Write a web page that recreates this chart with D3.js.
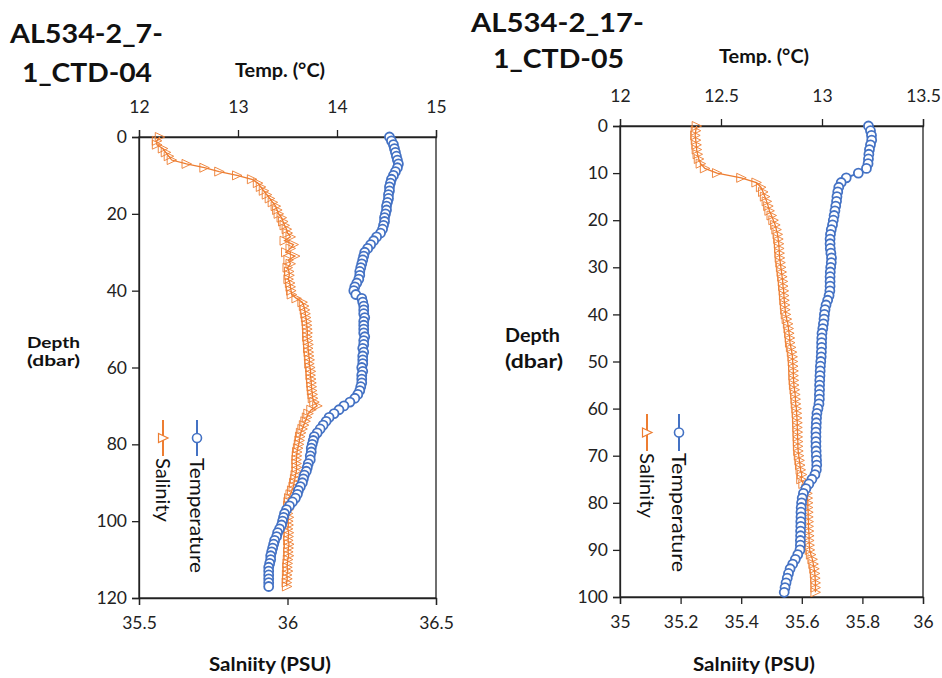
<!DOCTYPE html>
<html><head><meta charset="utf-8">
<script src="https://cdn.jsdelivr.net/npm/d3@7/dist/d3.min.js"></script>
<style>
html,body{margin:0;padding:0;background:#fff;}
svg{display:block;font-family:"Lato","Open Sans",sans-serif;}
</style></head>
<body>
<svg id="c" width="942" height="678"></svg>
<script>
// ---------- DATA ----------
const depthA = [0,1,2,3,4,5,6,7,8,9,10,11,12,13,14,15,16,17,18,19,20,21,22,23,24,25,26,27,28,29,30,31,32,33,34,35,36,37,38,39,40,41,42,43,44,45,46,47,48,49,50,51,52,53,54,55,56,57,58,59,60,61,62,63,64,65,66,67,68,69,70,71,72,73,74,75,76,77,78,79,80,81,82,83,84,85,86,87,88,89,90,91,92,93,94,95,96,97,98,99,100,101,102,103,104,105,106,107,108,109,110,111,112,113,114,115,116,117];
const tempA = [14.53,14.55,14.57,14.58,14.59,14.60,14.61,14.62,14.61,14.59,14.57,14.55,14.54,14.53,14.53,14.52,14.52,14.51,14.50,14.50,14.49,14.48,14.48,14.47,14.46,14.44,14.40,14.37,14.34,14.31,14.28,14.27,14.26,14.25,14.24,14.23,14.23,14.22,14.20,14.18,14.17,14.19,14.25,14.26,14.27,14.27,14.27,14.28,14.27,14.27,14.27,14.27,14.28,14.27,14.27,14.26,14.27,14.26,14.26,14.26,14.25,14.26,14.25,14.25,14.25,14.24,14.23,14.21,14.18,14.13,14.07,14.02,13.97,13.92,13.89,13.86,13.83,13.80,13.77,13.76,13.75,13.74,13.74,13.73,13.73,13.71,13.70,13.69,13.67,13.66,13.65,13.63,13.61,13.60,13.58,13.55,13.52,13.49,13.47,13.46,13.45,13.44,13.42,13.40,13.39,13.37,13.36,13.35,13.34,13.33,13.33,13.32,13.31,13.31,13.31,13.31,13.31,13.31];
const salA = [35.57,35.56,35.56,35.58,35.59,35.60,35.61,35.66,35.72,35.77,35.83,35.88,35.90,35.91,35.92,35.93,35.94,35.95,35.96,35.965,35.97,35.98,35.985,35.99,35.997,36.00,36.01,35.99,36.02,36.01,35.995,36.025,36.003,36.01,36.00,36.005,36.006,36.003,36.008,36.01,36.012,36.014,36.03,36.05,36.055,36.058,36.06,36.062,36.064,36.065,36.066,36.067,36.066,36.068,36.07,36.069,36.071,36.072,36.074,36.073,36.076,36.078,36.077,36.079,36.08,36.081,36.082,36.084,36.085,36.09,36.10,36.08,36.07,36.065,36.06,36.055,36.05,36.045,36.042,36.04,36.038,36.035,36.032,36.031,36.03,36.03,36.031,36.03,36.027,36.025,36.022,36.02,36.015,36.01,36.005,36.003,36.002,36.003,36.001,36.004,36.002,36.003,36.001,36.004,36.003,36.002,36.005,36.003,36.002,36.004,36.001,36.0,35.999,36.001,35.998,35.999,35.997,35.998];

const depthB = [0,1,2,3,4,5,6,7,8,9,10,11,12,13,14,15,16,17,18,19,20,21,22,23,24,25,26,27,28,29,30,31,32,33,34,35,36,37,38,39,40,41,42,43,44,45,46,47,48,49,50,51,52,53,54,55,56,57,58,59,60,61,62,63,64,65,66,67,68,69,70,71,72,73,74,75,76,77,78,79,80,81,82,83,84,85,86,87,88,89,90,91,92,93,94,95,96,97,98,99];
const tempB = [13.23,13.24,13.245,13.246,13.24,13.235,13.232,13.23,13.228,13.22,13.18,13.12,13.095,13.083,13.078,13.074,13.072,13.068,13.064,13.06,13.056,13.052,13.046,13.042,13.04,13.04,13.041,13.044,13.047,13.046,13.043,13.041,13.04,13.04,13.04,13.039,13.035,13.028,13.02,13.015,13.012,13.01,13.007,13.004,13.0,12.999,12.998,12.998,12.997,12.996,12.994,12.992,12.991,12.99,12.989,12.988,12.988,12.987,12.987,12.985,12.98,12.975,12.973,12.972,12.971,12.97,12.97,12.97,12.97,12.971,12.972,12.973,12.974,12.972,12.965,12.95,12.935,12.92,12.908,12.902,12.899,12.897,12.896,12.896,12.895,12.895,12.894,12.894,12.893,12.893,12.891,12.88,12.868,12.855,12.842,12.834,12.828,12.822,12.817,12.813];
const salB = [35.253,35.25,35.248,35.25,35.252,35.253,35.256,35.26,35.266,35.28,35.32,35.40,35.45,35.465,35.472,35.478,35.484,35.489,35.493,35.50,35.506,35.512,35.516,35.52,35.522,35.524,35.525,35.526,35.527,35.529,35.531,35.533,35.535,35.537,35.538,35.54,35.541,35.542,35.544,35.545,35.547,35.55,35.554,35.556,35.558,35.56,35.561,35.564,35.567,35.569,35.57,35.571,35.572,35.572,35.573,35.574,35.576,35.578,35.579,35.58,35.582,35.583,35.584,35.585,35.585,35.586,35.586,35.587,35.587,35.588,35.59,35.592,35.594,35.596,35.60,35.598,35.605,35.615,35.618,35.619,35.62,35.62,35.621,35.621,35.622,35.622,35.623,35.624,35.624,35.625,35.626,35.63,35.635,35.638,35.641,35.643,35.644,35.645,35.645,35.645];

const titlesA = ["AL534-2_7-","1_CTD-04"];
const titlesB = ["AL534-2_17-","1_CTD-05"];
const tempTicksA = [12,13,14,15];
const salTicksA = [35.5,36,36.5];
const depthTicksA = [0,20,40,60,80,100,120];
const tempTicksB = [12,12.5,13,13.5];
const salTicksB = [35,35.2,35.4,35.6,35.8,36];
const depthTicksB = [0,10,20,30,40,50,60,70,80,90,100];
const seriesNames = ["Salinity","Temperature"];
const tempLabel = "Temp. (°C)";
const salLabel = "Salniity (PSU)";
const depthLabel = ["Depth","(dbar)"];

// ---------- STYLE ----------
const BLUE = "#4472C4", ORANGE = "#ED7D31";
const FONT = "Lato, 'Open Sans', sans-serif";
const svg = d3.select("#c");

function panel(cfg){
  const g = svg.append("g");
  const {L,R,T,B} = cfg;
  const x1 = d3.scaleLinear().domain(cfg.tDom).range([L,R]);
  const x2 = d3.scaleLinear().domain(cfg.sDom).range([L,R]);
  const y = d3.scaleLinear().domain(cfg.dDom).range([T,B]);

  g.append("rect").attr("x",L).attr("y",T).attr("width",R-L).attr("height",B-T)
    .attr("fill","none").attr("stroke","#222").attr("stroke-width",1.3);

  const axT = g.append("g").attr("transform",`translate(0,${T})`)
    .call(d3.axisTop(x1).tickValues(cfg.tTicks).tickSize(7).tickPadding(17).tickFormat(d=>d));
  const axB = g.append("g").attr("transform",`translate(0,${B})`)
    .call(d3.axisBottom(x2).tickValues(cfg.sTicks).tickSize(7).tickPadding(12).tickFormat(d=>d));
  const axL = g.append("g").attr("transform",`translate(${L},0)`)
    .call(d3.axisLeft(y).tickValues(cfg.dTicks).tickSize(7).tickPadding(5).tickFormat(d=>d));
  [axT,axB,axL].forEach(a=>{
    a.select(".domain").attr("stroke","#222").attr("stroke-width",1.3);
    a.selectAll(".tick line").attr("stroke","#222").attr("stroke-width",1.3);
    a.selectAll("text").attr("font-size",17.5).attr("fill","#222").attr("font-family",FONT);
  });

  const tData = cfg.depth.map((d,i)=>({d, v:cfg.temp[i]}));
  const sData = cfg.depth.map((d,i)=>({d, v:cfg.sal[i]}));

  const tri = "M-4.5,-4.5L5,0L-4.5,4.5Z";

  g.append("path").datum(sData)
    .attr("d", d3.line().x(p=>x2(p.v)).y(p=>y(p.d)))
    .attr("fill","none").attr("stroke",ORANGE).attr("stroke-width",1.3);
  g.append("g").selectAll("path").data(sData).join("path")
    .attr("d",tri).attr("transform",p=>`translate(${x2(p.v)},${y(p.d)})`)
    .attr("fill","none").attr("stroke",ORANGE).attr("stroke-width",1).attr("opacity",0.9);

  g.append("path").datum(tData)
    .attr("d", d3.line().x(p=>x1(p.v)).y(p=>y(p.d)))
    .attr("fill","none").attr("stroke",BLUE).attr("stroke-width",1.8);
  g.append("g").selectAll("circle").data(tData).join("circle")
    .attr("cx",p=>x1(p.v)).attr("cy",p=>y(p.d)).attr("r",4.5)
    .attr("fill","#fff").attr("stroke",BLUE).attr("stroke-width",1.8);

  cfg.titles.forEach((t,i)=>{
    g.append("text").attr("x",cfg.titleX[i]).attr("y",cfg.titleY[i])
      .attr("font-size",26).attr("font-weight","bold").attr("fill","#111")
      .attr("textLength",cfg.titleW[i]).attr("lengthAdjust","spacingAndGlyphs")
      .text(t);
  });
  g.append("text").attr("x",cfg.tLabX).attr("y",cfg.tLabY)
    .attr("font-size",18).attr("font-weight","bold").attr("fill","#111")
    .attr("textLength",90).attr("lengthAdjust","spacingAndGlyphs").text(tempLabel);
  g.append("text").attr("x",cfg.sLabX).attr("y",671)
    .attr("font-size",19).attr("font-weight","bold").attr("fill","#111")
    .attr("textLength",122).attr("lengthAdjust","spacingAndGlyphs").text(salLabel);
  depthLabel.forEach((t,i)=>{
    g.append("text").attr("x",cfg.dLabX).attr("y",cfg.dLabY[i])
      .attr("font-size",cfg.dLabFs).attr("font-weight","bold").attr("fill","#111")
      .attr("textLength",cfg.dLabW[i]).attr("lengthAdjust","spacingAndGlyphs").text(t);
  });

  const leg = [
    {name:seriesNames[0], color:ORANGE, x:cfg.legX[0], shape:"tri", w:cfg.legW[0]},
    {name:seriesNames[1], color:BLUE, x:cfg.legX[1], shape:"circ", w:cfg.legW[1]}
  ];
  leg.forEach(l=>{
    g.append("line").attr("x1",l.x).attr("x2",l.x).attr("y1",cfg.legY0).attr("y2",cfg.legY1)
      .attr("stroke",l.color).attr("stroke-width",2);
    const my = (cfg.legY0+cfg.legY1)/2;
    if(l.shape==="tri"){
      g.append("path").attr("d",tri).attr("transform",`translate(${l.x},${my})`)
        .attr("fill","#fff").attr("stroke",l.color).attr("stroke-width",1.2);
    } else {
      g.append("circle").attr("cx",l.x).attr("cy",my).attr("r",4.5)
        .attr("fill","#fff").attr("stroke",l.color).attr("stroke-width",1.6);
    }
    g.append("text").attr("transform",`translate(${l.x-7},${cfg.legY1+2}) rotate(90)`)
      .attr("font-size",19).attr("fill","#111")
      .attr("textLength",l.w).attr("lengthAdjust","spacingAndGlyphs").text(l.name);
  });
}

panel({
  L:139,R:436,T:137,B:598,
  tDom:[12,15], sDom:[35.5,36.5], dDom:[0,120],
  tTicks:tempTicksA, sTicks:salTicksA, dTicks:depthTicksA,
  depth:depthA, temp:tempA, sal:salA,
  titles:titlesA, titleX:[10,22], titleY:[43,82], titleW:[153,130],
  tLabX:235, tLabY:77, sLabX:209, dLabX:27, dLabY:[348,366], dLabFs:16, dLabW:[53,53],
  legX:[163,197], legY0:420, legY1:456, legW:[64,115]
});
panel({
  L:620,R:923,T:126,B:597,
  tDom:[12,13.5], sDom:[35,36], dDom:[0,100],
  tTicks:tempTicksB, sTicks:salTicksB, dTicks:depthTicksB,
  depth:depthB, temp:tempB, sal:salB,
  titles:titlesB, titleX:[471,493], titleY:[32,68], titleW:[173,131],
  tLabX:719, tLabY:63, sLabX:693, dLabX:505, dLabY:[342,368], dLabFs:18, dLabW:[55,58],
  legX:[647,679], legY0:414, legY1:451, legW:[65,119]
});
</script>
</body></html>
